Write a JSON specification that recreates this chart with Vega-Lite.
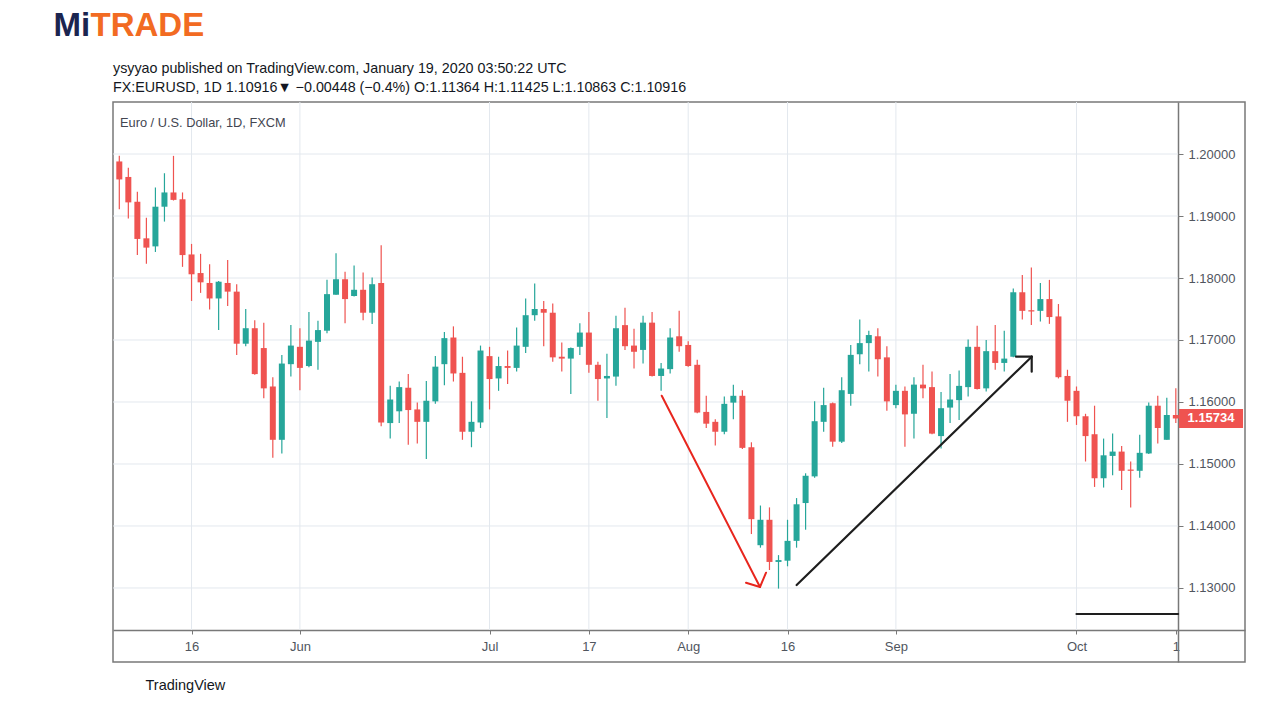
{
  "$schema": "https://vega.github.io/schema/vega-lite/v6.json",
  "width": 1132,
  "height": 560,
  "autosize": {"type": "none"},
  "padding": {"left": 113, "top": 102, "right": 22, "bottom": 42},
  "background": "white",
  "title": {
    "text": "ysyyao published on TradingView.com, January 19, 2020 03:50:22 UTC",
    "subtitle": "FX:EURUSD, 1D  1.10916\u25bc \u22120.00448 (\u22120.4%) O:1.11364 H:1.11425 L:1.10863 C:1.10916",
    "anchor": "start",
    "frame": "group",
    "offset": 10,
    "dy": 96,
    "fontSize": 14.3,
    "fontWeight": "normal",
    "color": "#131722",
    "subtitleFontSize": 14.3,
    "subtitleColor": "#131722",
    "subtitlePadding": 4
  },
  "config": {
    "view": {"stroke": "#787878", "strokeWidth": 1.5},
    "font": "Liberation Sans"
  },
  "datasets": {
    "candles": [
      {"i": 1, "o": 1.1988, "h": 1.1997, "l": 1.1911, "c": 1.1959},
      {"i": 2, "o": 1.1963, "h": 1.1978, "l": 1.1896, "c": 1.1922},
      {"i": 3, "o": 1.1923, "h": 1.1939, "l": 1.1837, "c": 1.1863},
      {"i": 4, "o": 1.1864, "h": 1.1897, "l": 1.1823, "c": 1.1849},
      {"i": 5, "o": 1.1851, "h": 1.1946, "l": 1.1842, "c": 1.1915},
      {"i": 6, "o": 1.1915, "h": 1.1969, "l": 1.1891, "c": 1.1938},
      {"i": 7, "o": 1.1938, "h": 1.1997, "l": 1.1925, "c": 1.1926},
      {"i": 8, "o": 1.1927, "h": 1.1938, "l": 1.1818, "c": 1.1837},
      {"i": 9, "o": 1.1838, "h": 1.1855, "l": 1.1763, "c": 1.1806},
      {"i": 10, "o": 1.1808, "h": 1.1839, "l": 1.1776, "c": 1.1793},
      {"i": 11, "o": 1.1792, "h": 1.1822, "l": 1.1749, "c": 1.1767},
      {"i": 12, "o": 1.1767, "h": 1.1795, "l": 1.1716, "c": 1.1794},
      {"i": 13, "o": 1.1792, "h": 1.1829, "l": 1.1755, "c": 1.1778},
      {"i": 14, "o": 1.1778, "h": 1.1790, "l": 1.1676, "c": 1.1694},
      {"i": 15, "o": 1.1694, "h": 1.1750, "l": 1.1690, "c": 1.1719},
      {"i": 16, "o": 1.1719, "h": 1.1732, "l": 1.1644, "c": 1.1645},
      {"i": 17, "o": 1.1687, "h": 1.1728, "l": 1.1606, "c": 1.1622},
      {"i": 18, "o": 1.1625, "h": 1.1640, "l": 1.1510, "c": 1.1539},
      {"i": 19, "o": 1.1539, "h": 1.1676, "l": 1.1517, "c": 1.1662},
      {"i": 20, "o": 1.1661, "h": 1.1724, "l": 1.1641, "c": 1.1691},
      {"i": 21, "o": 1.1689, "h": 1.1719, "l": 1.1619, "c": 1.1655},
      {"i": 22, "o": 1.1658, "h": 1.1745, "l": 1.1656, "c": 1.1699},
      {"i": 23, "o": 1.1697, "h": 1.1731, "l": 1.1652, "c": 1.1716},
      {"i": 24, "o": 1.1715, "h": 1.1797, "l": 1.1711, "c": 1.1774},
      {"i": 25, "o": 1.1773, "h": 1.1840, "l": 1.1773, "c": 1.1798},
      {"i": 26, "o": 1.1798, "h": 1.1810, "l": 1.1727, "c": 1.1766},
      {"i": 27, "o": 1.1771, "h": 1.1820, "l": 1.1770, "c": 1.1781},
      {"i": 28, "o": 1.1781, "h": 1.1809, "l": 1.1732, "c": 1.1744},
      {"i": 29, "o": 1.1744, "h": 1.1801, "l": 1.1726, "c": 1.1790},
      {"i": 30, "o": 1.1792, "h": 1.1853, "l": 1.1561, "c": 1.1567},
      {"i": 31, "o": 1.1566, "h": 1.1626, "l": 1.1541, "c": 1.1604},
      {"i": 32, "o": 1.1585, "h": 1.1633, "l": 1.1566, "c": 1.1624},
      {"i": 33, "o": 1.1623, "h": 1.1645, "l": 1.1531, "c": 1.1587},
      {"i": 34, "o": 1.1588, "h": 1.1599, "l": 1.1533, "c": 1.1568},
      {"i": 35, "o": 1.1568, "h": 1.1634, "l": 1.1508, "c": 1.1602},
      {"i": 36, "o": 1.1601, "h": 1.1674, "l": 1.1597, "c": 1.1657},
      {"i": 37, "o": 1.1661, "h": 1.1713, "l": 1.1627, "c": 1.1703},
      {"i": 38, "o": 1.1704, "h": 1.1722, "l": 1.1633, "c": 1.1646},
      {"i": 39, "o": 1.1647, "h": 1.1673, "l": 1.1539, "c": 1.1552},
      {"i": 40, "o": 1.1552, "h": 1.1601, "l": 1.1527, "c": 1.1568},
      {"i": 41, "o": 1.1567, "h": 1.1691, "l": 1.1558, "c": 1.1683},
      {"i": 42, "o": 1.1674, "h": 1.1689, "l": 1.1588, "c": 1.1637},
      {"i": 43, "o": 1.1638, "h": 1.1673, "l": 1.1618, "c": 1.1658},
      {"i": 44, "o": 1.1658, "h": 1.1683, "l": 1.1629, "c": 1.1655},
      {"i": 45, "o": 1.1655, "h": 1.1720, "l": 1.1649, "c": 1.1691},
      {"i": 46, "o": 1.1689, "h": 1.1767, "l": 1.1679, "c": 1.1740},
      {"i": 47, "o": 1.1740, "h": 1.1791, "l": 1.1731, "c": 1.1750},
      {"i": 48, "o": 1.1750, "h": 1.1763, "l": 1.1690, "c": 1.1744},
      {"i": 49, "o": 1.1744, "h": 1.1759, "l": 1.1665, "c": 1.1672},
      {"i": 50, "o": 1.1673, "h": 1.1696, "l": 1.1649, "c": 1.1670},
      {"i": 51, "o": 1.1670, "h": 1.1688, "l": 1.1613, "c": 1.1687},
      {"i": 52, "o": 1.1689, "h": 1.1727, "l": 1.1676, "c": 1.1712},
      {"i": 53, "o": 1.1712, "h": 1.1745, "l": 1.1647, "c": 1.1660},
      {"i": 54, "o": 1.1660, "h": 1.1665, "l": 1.1602, "c": 1.1637},
      {"i": 55, "o": 1.1638, "h": 1.1678, "l": 1.1574, "c": 1.1642},
      {"i": 56, "o": 1.1641, "h": 1.1739, "l": 1.1626, "c": 1.1719},
      {"i": 57, "o": 1.1724, "h": 1.1752, "l": 1.1684, "c": 1.1690},
      {"i": 58, "o": 1.1691, "h": 1.1718, "l": 1.1654, "c": 1.1681},
      {"i": 59, "o": 1.1684, "h": 1.1739, "l": 1.1662, "c": 1.1728},
      {"i": 60, "o": 1.1728, "h": 1.1745, "l": 1.1641, "c": 1.1642},
      {"i": 61, "o": 1.1642, "h": 1.1663, "l": 1.1618, "c": 1.1654},
      {"i": 62, "o": 1.1653, "h": 1.1719, "l": 1.1646, "c": 1.1704},
      {"i": 63, "o": 1.1706, "h": 1.1747, "l": 1.1681, "c": 1.1690},
      {"i": 64, "o": 1.1692, "h": 1.1698, "l": 1.1657, "c": 1.1658},
      {"i": 65, "o": 1.1660, "h": 1.1668, "l": 1.1582, "c": 1.1583},
      {"i": 66, "o": 1.1584, "h": 1.1610, "l": 1.1558, "c": 1.1565},
      {"i": 67, "o": 1.1568, "h": 1.1572, "l": 1.1530, "c": 1.1552},
      {"i": 68, "o": 1.1552, "h": 1.1609, "l": 1.1548, "c": 1.1597},
      {"i": 69, "o": 1.1599, "h": 1.1628, "l": 1.1572, "c": 1.1610},
      {"i": 70, "o": 1.1610, "h": 1.1619, "l": 1.1524, "c": 1.1526},
      {"i": 71, "o": 1.1527, "h": 1.1535, "l": 1.1387, "c": 1.1411},
      {"i": 72, "o": 1.1369, "h": 1.1433, "l": 1.1365, "c": 1.1410},
      {"i": 73, "o": 1.1410, "h": 1.1430, "l": 1.1329, "c": 1.1342},
      {"i": 74, "o": 1.1342, "h": 1.1353, "l": 1.1299, "c": 1.1345},
      {"i": 75, "o": 1.1344, "h": 1.1410, "l": 1.1335, "c": 1.1376},
      {"i": 76, "o": 1.1376, "h": 1.1445, "l": 1.1365, "c": 1.1435},
      {"i": 77, "o": 1.1437, "h": 1.1485, "l": 1.1394, "c": 1.1481},
      {"i": 78, "o": 1.1480, "h": 1.1601, "l": 1.1478, "c": 1.1569},
      {"i": 79, "o": 1.1568, "h": 1.1623, "l": 1.1552, "c": 1.1595},
      {"i": 80, "o": 1.1598, "h": 1.1599, "l": 1.1528, "c": 1.1536},
      {"i": 81, "o": 1.1536, "h": 1.1640, "l": 1.1534, "c": 1.1619},
      {"i": 82, "o": 1.1613, "h": 1.1692, "l": 1.1594, "c": 1.1676},
      {"i": 83, "o": 1.1677, "h": 1.1733, "l": 1.1661, "c": 1.1695},
      {"i": 84, "o": 1.1695, "h": 1.1715, "l": 1.1649, "c": 1.1708},
      {"i": 85, "o": 1.1706, "h": 1.1719, "l": 1.1641, "c": 1.1669},
      {"i": 86, "o": 1.1672, "h": 1.1690, "l": 1.1586, "c": 1.1601},
      {"i": 87, "o": 1.1595, "h": 1.1628, "l": 1.1590, "c": 1.1618},
      {"i": 88, "o": 1.1618, "h": 1.1625, "l": 1.1528, "c": 1.1580},
      {"i": 89, "o": 1.1581, "h": 1.1640, "l": 1.1541, "c": 1.1628},
      {"i": 90, "o": 1.1628, "h": 1.1660, "l": 1.1606, "c": 1.1622},
      {"i": 91, "o": 1.1624, "h": 1.1649, "l": 1.1548, "c": 1.1549},
      {"i": 92, "o": 1.1545, "h": 1.1616, "l": 1.1525, "c": 1.1590},
      {"i": 93, "o": 1.1591, "h": 1.1645, "l": 1.1566, "c": 1.1604},
      {"i": 94, "o": 1.1603, "h": 1.1651, "l": 1.1571, "c": 1.1626},
      {"i": 95, "o": 1.1624, "h": 1.1701, "l": 1.1609, "c": 1.1689},
      {"i": 96, "o": 1.1689, "h": 1.1723, "l": 1.1620, "c": 1.1621},
      {"i": 97, "o": 1.1622, "h": 1.1700, "l": 1.1617, "c": 1.1682},
      {"i": 98, "o": 1.1682, "h": 1.1724, "l": 1.1652, "c": 1.1663},
      {"i": 99, "o": 1.1663, "h": 1.1715, "l": 1.1649, "c": 1.1670},
      {"i": 100, "o": 1.1673, "h": 1.1783, "l": 1.1672, "c": 1.1777},
      {"i": 101, "o": 1.1777, "h": 1.1805, "l": 1.1733, "c": 1.1747},
      {"i": 102, "o": 1.1748, "h": 1.1817, "l": 1.1724, "c": 1.1746},
      {"i": 103, "o": 1.1747, "h": 1.1792, "l": 1.1730, "c": 1.1766},
      {"i": 104, "o": 1.1766, "h": 1.1797, "l": 1.1726, "c": 1.1737},
      {"i": 105, "o": 1.1738, "h": 1.1758, "l": 1.1638, "c": 1.1640},
      {"i": 106, "o": 1.1642, "h": 1.1652, "l": 1.1568, "c": 1.1602},
      {"i": 107, "o": 1.1618, "h": 1.1625, "l": 1.1563, "c": 1.1577},
      {"i": 108, "o": 1.1577, "h": 1.1581, "l": 1.1504, "c": 1.1545},
      {"i": 109, "o": 1.1548, "h": 1.1594, "l": 1.1463, "c": 1.1477},
      {"i": 110, "o": 1.1477, "h": 1.1541, "l": 1.1462, "c": 1.1514},
      {"i": 111, "o": 1.1513, "h": 1.1549, "l": 1.1482, "c": 1.1520},
      {"i": 112, "o": 1.1520, "h": 1.1529, "l": 1.1458, "c": 1.1489},
      {"i": 113, "o": 1.1491, "h": 1.1504, "l": 1.1430, "c": 1.1489},
      {"i": 114, "o": 1.1489, "h": 1.1547, "l": 1.1478, "c": 1.1518},
      {"i": 115, "o": 1.1517, "h": 1.1599, "l": 1.1516, "c": 1.1594},
      {"i": 116, "o": 1.1594, "h": 1.1610, "l": 1.1533, "c": 1.1558},
      {"i": 117, "o": 1.1539, "h": 1.1607, "l": 1.1539, "c": 1.1579},
      {"i": 118, "o": 1.1579, "h": 1.1622, "l": 1.1566, "c": 1.15734}
    ],
    "levels": [
      {"p": 1.13}, {"p": 1.14}, {"p": 1.15}, {"p": 1.16},
      {"p": 1.17}, {"p": 1.18}, {"p": 1.19}, {"p": 1.2}
    ],
    "months": [
      {"i": 9}, {"i": 21}, {"i": 42}, {"i": 53},
      {"i": 64}, {"i": 75}, {"i": 87}, {"i": 107}
    ],
    "redArrow": [
      {"i": 61.07, "p": 1.16102, "i2": 71.95, "p2": 1.13016},
      {"i": 70.4, "p": 1.13085, "i2": 71.95, "p2": 1.13016},
      {"i": 72.62, "p": 1.13247, "i2": 71.95, "p2": 1.13016}
    ],
    "blackLines": [
      {"i": 76.01, "p": 1.13048, "i2": 102.04, "p2": 1.16731},
      {"i": 100.3, "p": 1.16731, "i2": 102.04, "p2": 1.16731},
      {"i": 102.04, "p": 1.16489, "i2": 102.04, "p2": 1.16731},
      {"i": 107, "p": 1.1258, "i2": 118.25, "p2": 1.1258}
    ],
    "last": [{"p": 1.15734, "label": "1.15734", "name": "Euro / U.S. Dollar, 1D, FXCM"}]
  },
  "resolve": {"axis": {"x": "independent", "y": "independent"}},
  "layer": [
    {
      "data": {"name": "levels"},
      "mark": {"type": "rule", "color": "#e3e8ee", "strokeWidth": 1},
      "encoding": {
        "y": {
          "field": "p",
          "type": "quantitative",
          "scale": {"domain": [1.11806, 1.20839], "nice": false, "zero": false},
          "axis": null
        },
        "x": {
          "datum": 0.302,
          "type": "quantitative",
          "scale": {"domain": [0.302, 125.66], "nice": false, "zero": false},
          "axis": null
        },
        "x2": {"datum": 118.25}
      }
    },
    {
      "data": {"name": "months"},
      "mark": {"type": "rule", "color": "#e3e8ee", "strokeWidth": 1},
      "encoding": {
        "x": {"field": "i", "type": "quantitative", "axis": null},
        "y": {"datum": 1.12323, "type": "quantitative", "axis": null},
        "y2": {"datum": 1.20839}
      }
    },
    {
      "data": {"name": "candles"},
      "mark": {"type": "rule", "strokeWidth": 1.2},
      "encoding": {
        "x": {
          "field": "i",
          "type": "quantitative",
          "axis": {
            "orient": "bottom",
            "offset": -32,
            "values": [9, 21, 42, 53, 64, 75, 87, 107, 118],
            "labelExpr": "['16','Jun','Jul','17','Aug','16','Sep','Oct','1'][indexof([9,21,42,53,64,75,87,107,118], datum.value)]",
            "grid": false,
            "domainColor": "#787878",
            "domainWidth": 1.5,
            "tickColor": "#787878",
            "tickSize": 4,
            "labelColor": "#50555e",
            "labelFontSize": 13,
            "labelPadding": 6,
            "labelFlush": false,
            "labelOverlap": false,
            "title": "TradingView",
            "titleX": 32,
            "titleY": 59,
            "titleAlign": "left",
            "titleBaseline": "alphabetic",
            "titleFontSize": 14.5,
            "titleFontWeight": "normal",
            "titleColor": "#131722"
          }
        },
        "y": {
          "field": "l",
          "type": "quantitative",
          "axis": {
            "orient": "right",
            "offset": -67,
            "values": [1.13, 1.14, 1.15, 1.16, 1.17, 1.18, 1.19, 1.2],
            "format": ".5f",
            "grid": false,
            "domainColor": "#787878",
            "domainWidth": 1.5,
            "tickColor": "#787878",
            "tickSize": 5,
            "labelColor": "#50555e",
            "labelFontSize": 13,
            "labelPadding": 5,
            "labelFlush": false,
            "labelOverlap": false,
            "title": null
          }
        },
        "y2": {"field": "h"},
        "color": {
          "condition": {"test": "datum.c >= datum.o", "value": "#26a69a"},
          "value": "#ef5350"
        }
      }
    },
    {
      "data": {"name": "candles"},
      "mark": {"type": "rule", "strokeWidth": 6},
      "encoding": {
        "x": {
          "field": "i",
          "type": "quantitative",
          "axis": {
            "orient": "top",
            "domain": false,
            "ticks": false,
            "labels": false,
            "grid": false,
            "title": "TRADE",
            "titleX": -23,
            "titleY": -67,
            "titleAlign": "left",
            "titleBaseline": "alphabetic",
            "titleFontSize": 33,
            "titleFontWeight": "bold",
            "titleColor": "#f26b22"
          }
        },
        "y": {
          "field": "o",
          "type": "quantitative",
          "axis": {
            "orient": "left",
            "domain": false,
            "ticks": false,
            "labels": false,
            "grid": false,
            "title": "Mi",
            "titleAngle": 0,
            "titleX": -60,
            "titleY": -67,
            "titleAlign": "left",
            "titleBaseline": "alphabetic",
            "titleFontSize": 33,
            "titleFontWeight": "bold",
            "titleColor": "#1b2550"
          }
        },
        "y2": {"field": "c"},
        "color": {
          "condition": {"test": "datum.c >= datum.o", "value": "#26a69a"},
          "value": "#ef5350"
        }
      }
    },
    {
      "data": {"name": "redArrow"},
      "mark": {"type": "rule", "color": "#e8261e", "strokeWidth": 2, "strokeCap": "round"},
      "encoding": {
        "x": {"field": "i", "type": "quantitative", "axis": null},
        "y": {"field": "p", "type": "quantitative", "axis": null},
        "x2": {"field": "i2"},
        "y2": {"field": "p2"}
      }
    },
    {
      "data": {"name": "blackLines"},
      "mark": {"type": "rule", "color": "#1e1e1e", "strokeWidth": 2.2, "strokeCap": "round"},
      "encoding": {
        "x": {"field": "i", "type": "quantitative", "axis": null},
        "y": {"field": "p", "type": "quantitative", "axis": null},
        "x2": {"field": "i2"},
        "y2": {"field": "p2"}
      }
    },
    {
      "data": {"name": "last"},
      "mark": {"type": "text", "align": "left", "baseline": "middle", "dx": 7, "dy": 21, "fontSize": 12.8, "color": "#434651"},
      "encoding": {
        "x": {"datum": 0.302, "type": "quantitative", "axis": null},
        "y": {"datum": 1.20839, "type": "quantitative", "axis": null},
        "text": {"field": "name"}
      }
    },
    {
      "data": {"name": "last"},
      "mark": {"type": "tick", "orient": "horizontal", "size": 64, "thickness": 19, "color": "#ef5350", "opacity": 1},
      "encoding": {
        "x": {"datum": 121.9, "type": "quantitative", "axis": null},
        "y": {"field": "p", "type": "quantitative", "axis": null}
      }
    },
    {
      "data": {"name": "last"},
      "mark": {"type": "text", "align": "center", "baseline": "middle", "fontSize": 13, "fontWeight": "bold", "color": "white"},
      "encoding": {
        "x": {"datum": 121.9, "type": "quantitative", "axis": null},
        "y": {"field": "p", "type": "quantitative", "axis": null},
        "text": {"field": "label"}
      }
    }
  ]
}
